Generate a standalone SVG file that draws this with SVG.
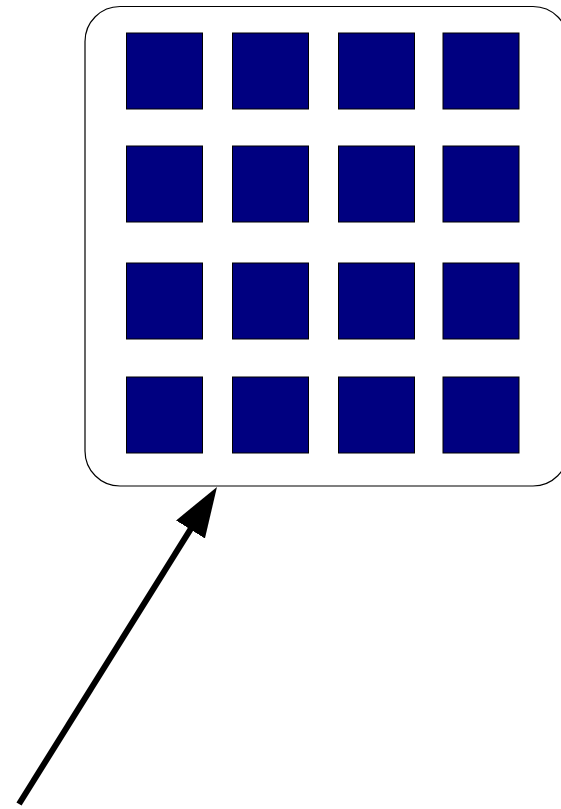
<svg xmlns="http://www.w3.org/2000/svg" width="561" height="809" viewBox="0 0 561 809">
<style>
.cell{fill:#000080;stroke:#000;stroke-width:1}
.frame{fill:#fff;stroke:#000;stroke-width:1.2}
.conn{stroke:#000;stroke-width:6;fill:none}
</style>
<defs>
<marker id="ah" markerUnits="userSpaceOnUse" markerWidth="60" markerHeight="40" refX="2" refY="17" orient="auto">
<path d="M0,0 L50,17 L0,34 Z" fill="#000"/>
</marker>
</defs>
<rect width="561" height="809" fill="#fff"/>
<g id="panel">
<rect class="frame" x="85" y="6.5" width="483" height="479.5" rx="35" ry="35"/>
</g>
<g id="cells">
<rect id="c11" class="cell" x="126.5" y="33" width="76" height="76"/>
<rect id="c12" class="cell" x="232.5" y="33" width="76" height="76"/>
<rect id="c13" class="cell" x="338.5" y="33" width="76" height="76"/>
<rect id="c14" class="cell" x="443" y="33" width="76" height="76"/>
<rect id="c21" class="cell" x="126.5" y="146" width="76" height="76"/>
<rect id="c22" class="cell" x="232.5" y="146" width="76" height="76"/>
<rect id="c23" class="cell" x="338.5" y="146" width="76" height="76"/>
<rect id="c24" class="cell" x="443" y="146" width="76" height="76"/>
<rect id="c31" class="cell" x="126.5" y="263" width="76" height="76"/>
<rect id="c32" class="cell" x="232.5" y="263" width="76" height="76"/>
<rect id="c33" class="cell" x="338.5" y="263" width="76" height="76"/>
<rect id="c34" class="cell" x="443" y="263" width="76" height="76"/>
<rect id="c41" class="cell" x="126.5" y="377" width="76" height="76"/>
<rect id="c42" class="cell" x="232.5" y="377" width="76" height="76"/>
<rect id="c43" class="cell" x="338.5" y="377" width="76" height="76"/>
<rect id="c44" class="cell" x="443" y="377" width="76" height="76"/>
</g>
<g id="connectors">
<line class="conn" x1="19" y1="804" x2="191.56" y2="527.7" marker-end="url(#ah)"/>
</g>
</svg>
